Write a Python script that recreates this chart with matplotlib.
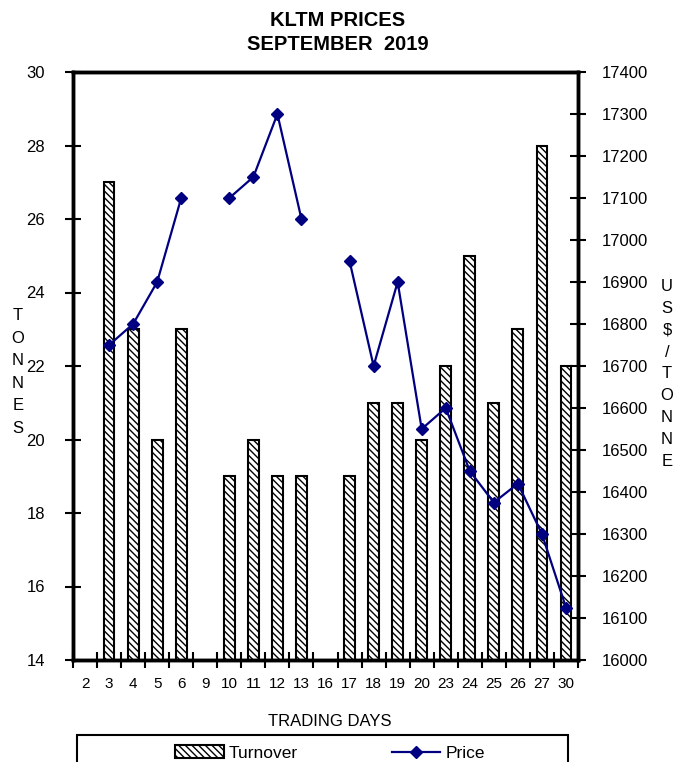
import numpy as np
import matplotlib.pyplot as plt
from matplotlib.patches import Rectangle
from matplotlib.ticker import FixedLocator, MultipleLocator

# ---------------- DATA ----------------
days = ["2", "3", "4", "5", "6", "9", "10", "11", "12", "13", "16",
        "17", "18", "19", "20", "23", "24", "25", "26", "27", "30"]
turnover = [np.nan, 27, 23, 20, 23, np.nan, 19, 20, 19, 19, np.nan,
            19, 21, 21, 20, 22, 25, 21, 23, 28, 22]
price = [np.nan, 16750, 16800, 16900, 17100, np.nan, 17100, 17150, 17300, 17050, np.nan,
         16950, 16700, 16900, 16550, 16600, 16450, 16375, 16420, 16300, 16125]

plt.rcParams['font.family'] = ['Liberation Sans', 'DejaVu Sans']
plt.rcParams['hatch.linewidth'] = 1.0

fig = plt.figure(figsize=(6.75, 7.62), dpi=100)
ax = fig.add_axes([73 / 675, 1 - 660 / 762, (578 - 73) / 675, (660 - 72) / 762])
ax2 = ax.twinx()

x = np.arange(len(days))

# bars start at 0 and get clipped by the 14 floor, as in the original
bars = ax.bar(x, np.nan_to_num(turnover), width=0.45, bottom=0,
              color="white", edgecolor="black", linewidth=1.5,
              hatch="\\\\\\\\\\", label="Turnover")
ax.set_ylim(14, 30)
ax.set_xlim(-0.5, len(days) - 0.5)

ax2.plot(x, price, color="#000080", marker="D", markersize=6, linewidth=1.6,
         label="Price")
ax2.set_ylim(16000, 17400)

# ticks
ax.yaxis.set_major_locator(MultipleLocator(2))
ax2.yaxis.set_major_locator(MultipleLocator(100))
ax.set_xticks(x)
ax.set_xticklabels(days)
ax.xaxis.set_minor_locator(FixedLocator(np.arange(-0.5, len(days), 1)))
ax.tick_params(axis="x", which="major", length=0, pad=12, labelsize=11)
ax.tick_params(axis="x", which="minor", direction="inout", length=12, width=1.5)
ax.tick_params(axis="y", direction="inout", length=12, width=1.5, labelsize=12, pad=14)
ax2.tick_params(axis="y", direction="inout", length=12, width=1.5, labelsize=12, pad=11)

for a in (ax, ax2):
    for s in a.spines.values():
        s.set_linewidth(2.5)

fig.text(0.5, 1 - 20 / 762, "KLTM PRICES", ha="center", va="center",
         fontsize=14.5, fontweight="bold")
fig.text(0.5, 1 - 45 / 762, "SEPTEMBER  2019", ha="center", va="center",
         fontsize=14.5, fontweight="bold")

fig.text(18 / 675, 1 - 372 / 762, "\n".join("TONNES"), ha="center", va="center",
         fontsize=12, linespacing=1.62)
fig.text(667 / 675, 1 - 374 / 762, "\n".join("US$/TONNE"), ha="center", va="center",
         fontsize=12, linespacing=1.58)

fig.text(330 / 675, 1 - 721 / 762, "TRADING DAYS", ha="center", va="center",
         fontsize=12)

# legend box runs off the bottom of the picture
fig.patches.append(Rectangle((77 / 675, -0.05), 491 / 675, 1 - 735 / 762 + 0.05,
                             transform=fig.transFigure, facecolor="white",
                             edgecolor="black", linewidth=1.5))
leg = fig.legend(handles=[bars, ax2.lines[0]], labels=["Turnover", "Price"],
                 loc="center", bbox_to_anchor=(330 / 675, 1 - 753 / 762),
                 ncol=2, frameon=False, fontsize=12.5, handlelength=2.8,
                 handletextpad=0.3, columnspacing=5.4, borderaxespad=0)

fig.savefig("out.png", dpi=100)
